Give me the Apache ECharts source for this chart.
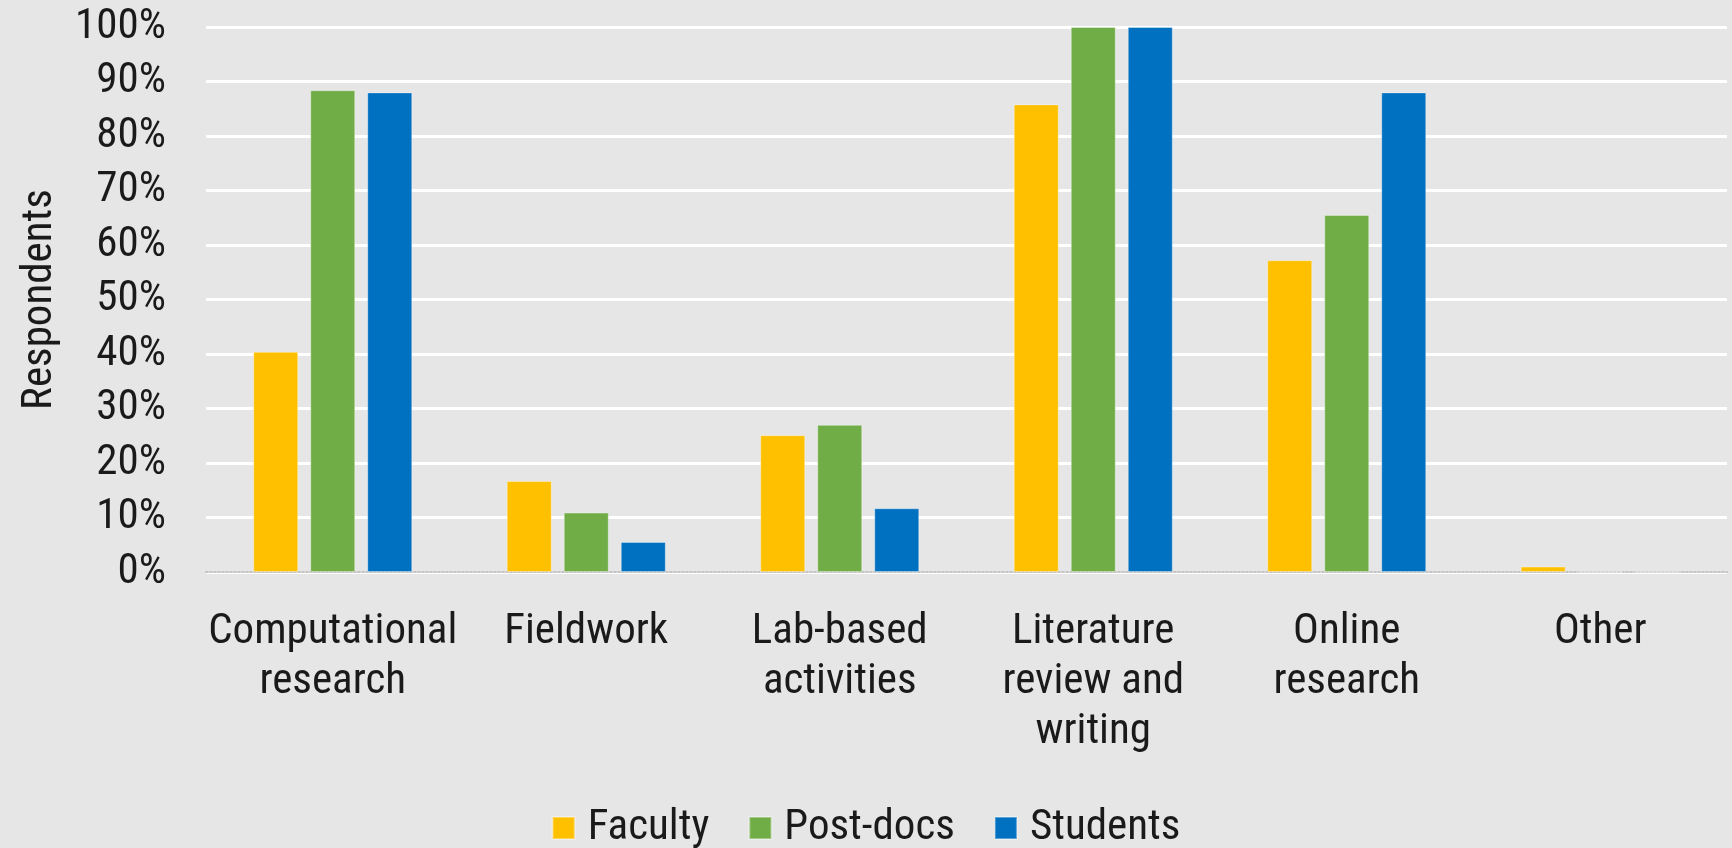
<!DOCTYPE html>
<html>
<head>
<meta charset="utf-8">
<script src="https://cdn.jsdelivr.net/npm/echarts@6/dist/echarts.min.js"></script>
<style>
  html, body { margin: 0; padding: 0; background: #e6e6e6; }
  #chart { width: 1732px; height: 848px; }
</style>
</head>
<body>
<div id="chart"></div>
<script>
const categories = [
  "Computational\nresearch",
  "Fieldwork",
  "Lab-based\nactivities",
  "Literature\nreview and\nwriting",
  "Online\nresearch",
  "Other",
];
const faculty = [40.4, 16.7, 25.1, 85.8, 57.2, 1.0];
const postDocs = [88.4, 10.9, 27.0, 100, 65.5, 0];
const students = [88.0, 5.5, 11.7, 100, 88.0, 0];

const textColor = "#1a1a1a";
const fontFamily = "'Roboto Condensed', Roboto, sans-serif";
const fontSize = 43;

const chart = echarts.init(document.getElementById("chart"));

const barSeries = (name, data, color) => ({
  name: name,
  type: "bar",
  data: data,
  barWidth: 45,
  barGap: "26.7%",
  itemStyle: {
    color: color,
    borderColor: "rgba(255,255,255,0.35)",
    borderWidth: 1,
  },
});

const option = {
  backgroundColor: "#e6e6e6",
  animation: false,
  textStyle: { fontFamily: fontFamily, color: textColor },
  grid: {
    left: 206,
    right: 5,
    top: 27,
    bottom: 276,
    containLabel: false,
  },
  legend: {
    left: "center",
    top: 800,
    icon: "rect",
    itemWidth: 22,
    itemHeight: 22,
    itemGap: 39,
    data: ["Faculty", "Post-docs", "Students"],
    textStyle: {
      fontFamily: fontFamily,
      fontSize: fontSize,
      color: textColor,
      padding: [0, 0, 0, 8],
      lineHeight: 46,
    },
  },
  xAxis: {
    type: "category",
    data: categories,
    axisTick: { show: false },
    axisLine: {
      lineStyle: { color: "#c4c4c4", width: 2, type: "dotted" },
    },
    axisLabel: {
      interval: 0,
      margin: 35,
      fontSize: fontSize,
      lineHeight: 50,
      color: textColor,
      fontFamily: fontFamily,
    },
  },
  yAxis: {
    type: "value",
    min: 0,
    max: 100,
    interval: 10,
    name: "Respondents",
    nameLocation: "middle",
    nameGap: 144,
    nameRotate: 90,
    nameTextStyle: {
      fontSize: fontSize,
      color: textColor,
      fontFamily: fontFamily,
    },
    axisLine: { show: false },
    axisTick: { show: false },
    axisLabel: {
      formatter: "{value}%",
      fontSize: fontSize,
      margin: 40,
      color: textColor,
      fontFamily: fontFamily,
    },
    splitLine: {
      lineStyle: { color: "#ffffff", width: 3 },
    },
  },
  series: [
    barSeries("Faculty", faculty, "#ffc000"),
    barSeries("Post-docs", postDocs, "#70ad47"),
    barSeries("Students", students, "#0070c0"),
  ],
};

chart.setOption(option);
</script>
</body>
</html>
